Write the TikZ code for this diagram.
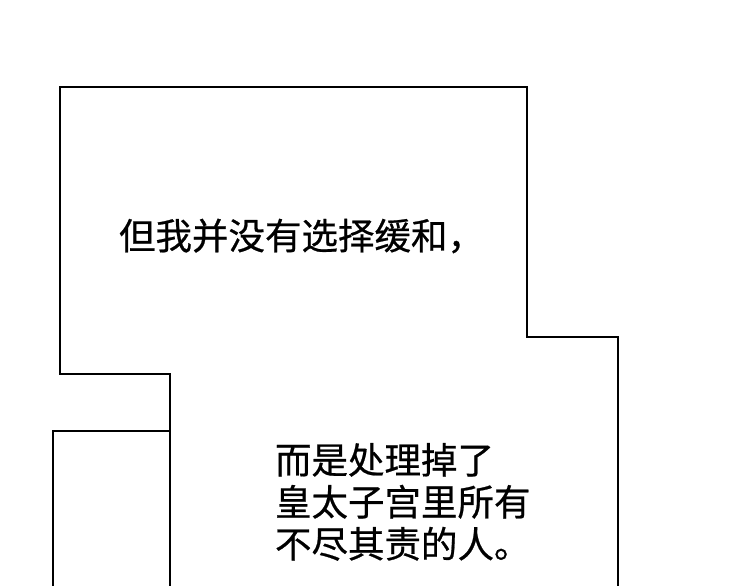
\documentclass[tikz,border=0pt]{standalone}
\usepackage{fontspec}
\newfontfamily\cjk[FakeBold=0.6]{Noto Sans CJK SC}
\begin{document}
\begin{tikzpicture}[x=1pt,y=-1pt,line width=2pt,
  txt/.style={font=\cjk\fontsize{36.5}{42}\selectfont,inner sep=0pt,anchor=west,align=left}]
\useasboundingbox (0,0) rectangle (750,586);
\draw (170,586) -- (170,374) -- (60,374) -- (60,87) -- (527,87) -- (527,337) -- (618,337) -- (618,586);
\draw (53,586) -- (53,431) -- (170,431);
\node[txt] (t1) at (118,236) {但我并没有选择缓和，};
\node[txt,anchor=north west] (t2) at (274,442) {而是处理掉了\\皇太子宫里所有\\不尽其责的人。};
\end{tikzpicture}
\end{document}
